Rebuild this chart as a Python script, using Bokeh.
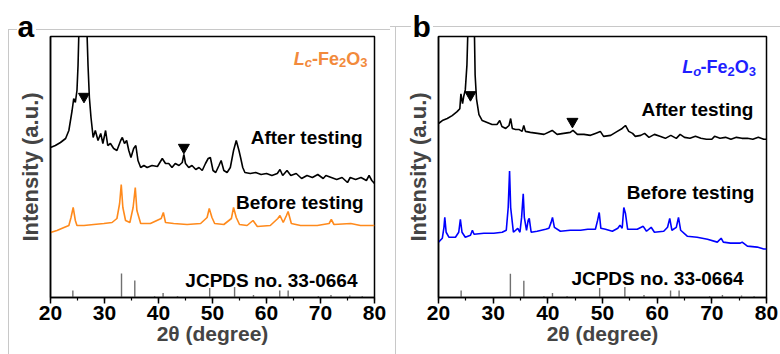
from bokeh.plotting import figure
from bokeh.layouts import row
from bokeh.models import Range1d, Label, SingleIntervalTicker, FixedTicker
from bokeh.embed import file_html
from bokeh.resources import INLINE

# ---------------- data ----------------
# Panel a (L_c-Fe2O3)
tt_a_after = [20.0, 20.9, 21.85, 22.8, 23.4, 24.0, 24.3, 24.6, 24.9, 25.1, 25.3, 26.0, 26.7, 26.95,
              27.2, 27.5, 27.9, 28.3, 28.8, 29.3, 29.7, 30.2, 30.6, 31.1, 31.7, 32.3, 33.0, 33.3,
              33.7, 34.1, 34.5, 34.9, 35.4, 35.8, 36.2, 36.7, 37.3, 37.9, 38.8, 39.8, 40.7, 41.3,
              41.9, 42.5, 43.1, 43.8, 44.4, 44.7, 45.0, 45.6, 46.2, 46.9, 47.5, 48.1, 48.7, 49.2,
              49.6, 50.1, 50.6, 51.2, 51.6, 52.1, 52.7, 53.3, 53.9, 54.4, 54.9, 55.2, 55.6, 56.0,
              57.0, 58.0, 59.0, 60.0, 61.0, 62.0, 62.5, 63.0, 63.8, 64.5, 65.5, 66.5, 67.5, 68.5,
              69.5, 70.5, 71.0, 72.0, 73.0, 74.0, 75.0, 75.5, 76.5, 77.5, 78.5, 79.0, 79.5, 80.0]
int_a_after = [150, 152, 155, 159, 167, 187, 199, 195, 207, 232, 275, 600, 275, 232,
               200, 180, 160, 167, 157, 164, 154, 167, 152, 154, 149, 147, 157, 160,
               154, 157, 147, 140, 149, 152, 137, 130, 132, 130, 132, 131, 139, 134,
               134, 130, 134, 132, 135, 143, 134, 130, 132, 128, 130, 127, 134, 139,
               140, 127, 125, 132, 137, 127, 125, 130, 147, 157, 147, 140, 130, 125,
               124, 125, 123, 124, 122, 124, 128, 122, 127, 122, 124, 119, 122, 120,
               123, 119, 122, 120, 118, 120, 115, 120, 118, 120, 117, 122, 117, 114]

tt_a_before = [20.0, 21.2, 22.5, 23.4, 23.8, 24.2, 24.6, 24.9, 26.2, 28.0, 29.9, 31.4, 32.3, 32.8,
               33.1, 33.4, 33.9, 34.7, 35.3, 35.7, 36.0, 36.7, 38.5, 40.5, 40.9, 41.3, 42.8, 45.3,
               47.8, 49.0, 49.4, 49.9, 50.4, 52.1, 53.5, 53.9, 54.4, 55.0, 56.4, 57.5, 58.3, 60.7,
               62.1, 62.5, 63.1, 63.7, 64.0, 64.6, 66.3, 69.4, 71.6, 72.0, 72.5, 75.6, 77.4, 80.0]
int_a_before = [65, 67, 70, 72, 80, 90, 77, 72, 72, 73, 74, 75, 79, 94,
                113, 90, 77, 75, 90, 110, 87, 74, 74, 79, 85, 75, 74, 73,
                74, 80, 89, 80, 74, 73, 79, 90, 80, 73, 72, 77, 71, 72,
                79, 82, 75, 82, 86, 74, 72, 72, 74, 78, 73, 74, 72, 72]

# Panel b (L_o-Fe2O3)
tt_b_after = [20.0, 20.7, 21.6, 22.5, 23.4, 23.9, 24.1, 24.4, 24.6, 24.9, 25.2, 25.4, 26.0, 26.55,
              26.7, 26.95, 27.4, 28.0, 28.9, 29.8, 30.7, 31.2, 31.6, 32.3, 32.9, 33.2, 33.5, 34.1,
              34.7, 35.3, 35.6, 35.9, 36.8, 38.1, 39.3, 40.8, 41.7, 42.9, 44.1, 44.6, 45.4, 46.6,
              47.8, 48.7, 49.6, 50.2, 51.5, 52.7, 53.6, 54.2, 54.8, 55.5, 56.0, 57.0, 57.7, 58.5,
              59.5, 60.5, 61.5, 62.5, 63.5, 64.2, 65.0, 66.0, 67.0, 68.0, 69.0, 70.0, 70.5, 71.5,
              72.5, 73.5, 74.5, 75.5, 76.5, 77.5, 78.5, 79.5, 80.0]
int_b_after = [176, 179, 181, 184, 188, 191, 206, 196, 203, 210, 235, 275, 600, 275,
               225, 201, 185, 179, 177, 175, 175, 179, 173, 171, 174, 181, 171, 170,
               170, 168, 174, 168, 167, 166, 165, 169, 165, 166, 167, 169, 165, 165,
               164, 166, 168, 163, 164, 168, 171, 174, 168, 166, 163, 164, 166, 162,
               165, 163, 161, 164, 161, 165, 162, 161, 163, 161, 160, 160, 163, 161,
               162, 160, 162, 161, 161, 160, 162, 160, 160]

tt_b_before = [20.0, 20.7, 21.0, 21.15, 21.4, 21.9, 23.1, 23.7, 24.0, 24.3, 24.9, 25.85, 26.2, 26.5,
               28.3, 30.1, 31.65, 32.4, 32.75, 33.0, 33.2, 33.7, 34.5, 34.9, 35.2, 35.5, 35.7, 36.1,
               36.4, 36.6, 36.95, 38.05, 39.6, 40.2, 40.6, 40.85, 41.2, 42.3, 44.1, 46.0, 47.3, 48.7,
               49.1, 49.4, 49.7, 50.55, 51.8, 52.8, 53.2, 53.6, 53.9, 54.2, 54.6, 56.35, 57.45, 58.05,
               58.9, 59.5, 61.2, 61.9, 62.3, 62.7, 63.5, 63.9, 64.3, 65.5, 67.3, 69.2, 71.0, 71.7,
               72.1, 73.4, 75.2, 75.55, 76.5, 78.3, 79.5, 80.0]
int_b_before = [56, 60, 71, 81, 66, 61, 61, 66, 79, 66, 61, 63, 68, 64,
                65, 65, 66, 68, 91, 128, 91, 66, 70, 66, 81, 105, 81, 68,
                78, 80, 66, 67, 69, 70, 76, 81, 71, 67, 68, 68, 69, 69,
                78, 86, 70, 69, 67, 70, 73, 70, 91, 85, 69, 69, 72, 67,
                71, 66, 67, 71, 80, 68, 71, 81, 68, 62, 61, 59, 56, 60,
                56, 55, 55, 56, 52, 51, 49, 49]

# Reference pattern JCPDS no. 33-0664 (hematite)
ref_pos = [24.14, 33.15, 35.61, 39.28, 40.85, 43.52, 49.48, 54.09, 57.59, 62.45, 64.01, 69.6, 71.94, 75.43, 77.73]
ref_int = [7, 24, 17, 1.5, 4.5, 1.5, 9.5, 10.5, 2.5, 7, 7, 1.5, 2.5, 2, 1.5]

# Marked (carbon) peaks
tri_a_x = [26.2, 44.7]
tri_a_y = [201, 150]
tri_b_x = [25.85, 44.5]
tri_b_y = [205, 178]

x_ticks = [20, 30, 40, 50, 60, 70, 80]

FONT = "Liberation Sans"
ORANGE = "#ff8a1c"
ORANGE_TXT = "#f28a3c"
BLUE = "#0000ff"
BLUE_TXT = "#1f1fff"
GREY_LINE = "#c8c8c8"


def grey_frame_css(segments):
    g = f"linear-gradient({GREY_LINE},{GREY_LINE})"
    return {"background-image": ", ".join([g] * len(segments)),
            "background-size": ", ".join(f"{w}px {h}px" for (_, _, w, h) in segments),
            "background-position": ", ".join(f"{x}px {y}px" for (x, y, _, _) in segments),
            "background-repeat": "no-repeat"}


def make_panel(letter, ymax, bl, br, bt, bb, after_x, after_y, before_x, before_y, before_color,
               tri_x, tri_y, grey_css, letter_pos, txt, title_spec, sub_letter):
    p = figure(width=390, height=354, x_range=Range1d(20, 80), y_range=Range1d(0, ymax),
               output_backend="svg", toolbar_location=None,
               min_border_left=bl, min_border_right=br, min_border_top=bt, min_border_bottom=bb)
    p.border_fill_color = None
    p.background_fill_color = "white"
    p.outline_line_color = "black"
    p.outline_line_width = 1.5
    p.xgrid.visible = False
    p.ygrid.visible = False
    p.styles = grey_css

    # panel letter (title)
    p.title.text = letter
    p.title.text_font = FONT
    p.title.text_font_style = "bold"
    p.title.text_font_size = "30px"
    p.title.text_color = "black"
    p.title.align = "left"
    p.title.offset = letter_pos[0]
    p.title.standoff = letter_pos[1]
    p.title.background_fill_color = None
    p.title.border_line_color = None

    # x axis
    ax = p.xaxis[0]
    ax.ticker = SingleIntervalTicker(interval=10, num_minor_ticks=2)
    ax.axis_label = "2θ (degree)"
    ax.axis_label_text_font = FONT
    ax.axis_label_text_font_style = "bold"
    ax.axis_label_text_font_size = "21px"
    ax.axis_label_standoff = -1
    ax.major_label_text_font = FONT
    ax.major_label_text_font_style = "bold"
    ax.major_label_text_font_size = "21px"
    ax.major_label_text_color = "black"
    ax.major_label_standoff = 2
    ax.major_tick_out = 6
    ax.major_tick_in = 0
    ax.minor_tick_out = 3
    ax.minor_tick_in = 0
    ax.axis_line_width = 1.5
    ax.major_tick_line_width = 1.5
    ax.minor_tick_line_width = 1.2

    # y axis
    ay = p.yaxis[0]
    ay.ticker = FixedTicker(ticks=[])
    ay.axis_label = "Intensity (a.u.)"
    ay.axis_label_text_font = FONT
    ay.axis_label_text_font_style = "bold"
    ay.axis_label_text_font_size = "22px"
    ay.axis_label_standoff = 8
    ay.axis_line_width = 1.5
    ay.major_tick_line_color = None
    ay.minor_tick_line_color = None

    # reference sticks
    p.segment(x0=ref_pos, y0=[0] * len(ref_pos), x1=ref_pos, y1=ref_int,
              line_color="#707070", line_width=1.4)
    # curves
    p.line(before_x, before_y, line_color=before_color, line_width=1.6)
    p.line(after_x, after_y, line_color="black", line_width=1.6)
    p.scatter(tri_x, tri_y, marker="inverted_triangle", size=11, color="black")

    # texts
    for t in txt:
        p.add_layout(Label(x=t[0], y=t[1], text=t[2], text_align="right", text_baseline="alphabetic",
                           text_font=FONT, text_font_style="bold", text_font_size="19px",
                           text_color="black"))

    # compound title  L_x-Fe2O3
    col, tx0, ty0, pxdeg = title_spec
    pieces = [("L", 0.0, 0, "18px", "bold italic"),
              (sub_letter, 11.0, -4, "13px", "bold italic"),
              ("-Fe", 18.2, 0, "18px", "bold"),
              ("2", 45.2, -4, "13px", "bold"),
              ("O", 52.4, 0, "18px", "bold"),
              ("3", 66.4, -4, "13px", "bold")]
    for s, dx, dy, fs, st in pieces:
        p.add_layout(Label(x=tx0 + dx / pxdeg, y=ty0 + dy, text=s, text_align="left",
                           text_baseline="alphabetic", text_font=FONT, text_font_style=st,
                           text_font_size=fs, text_color=col))
    return p


css_a = grey_frame_css([(8, 29, 9, 1), (36, 29, 354, 1), (8, 29, 1, 325)])
css_b = grey_frame_css([(0, 26, 21, 1), (43, 26, 347, 1), (5, 26, 1, 328)])

pa = make_panel("a", 261, 50, 16, 36, 57, tt_a_after, int_a_after, tt_a_before, int_a_before, ORANGE,
                tri_a_x, tri_a_y, css_a, (-33, -12),
                [(77.8, 160, "After testing"), (78.0, 95, "Before testing"), (76.85, 17, "JCPDS no. 33-0664")],
                (ORANGE_TXT, 65.06, 238.7, 5.4), "c")
pb = make_panel("b", 264, 48, 14, 34, 56, tt_b_after, int_b_after, tt_b_before, int_b_before, BLUE,
                tri_b_x, tri_b_y, css_b, (-26, -12),
                [(77.6, 190, "After testing"), (77.8, 106, "Before testing"), (75.8, 19, "JCPDS no. 33-0664")],
                (BLUE_TXT, 64.6, 233, 5.467), "o")

layout = row(pa, pb)
open("out.html", "w").write(file_html(layout, INLINE))
